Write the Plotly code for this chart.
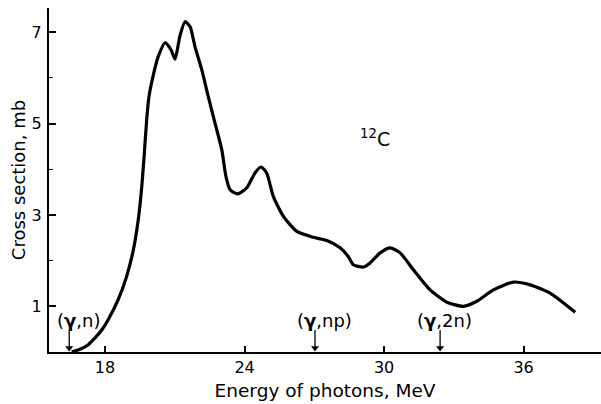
import plotly.graph_objects as go

# Photon energy (MeV) and cross section (mb)
energy = [16.57, 16.92, 17.28, 17.57, 17.86, 18.14, 18.57, 18.93, 19.22, 19.43,
          19.58, 19.69, 19.79, 19.89, 20.08, 20.29, 20.58, 20.84, 21.01, 21.23,
          21.44, 21.66, 21.87, 22.16, 22.44, 22.73, 23.02, 23.20, 23.38, 23.70,
          24.09, 24.45, 24.71, 24.95, 25.24, 25.67, 26.25, 26.96, 27.54, 28.11,
          28.46, 28.68, 29.11, 29.40, 29.83, 30.26, 30.69, 31.26, 31.98, 32.70,
          33.41, 33.99, 34.70, 35.56, 36.28, 37.14, 38.22]
sigma = [0.00, 0.06, 0.16, 0.31, 0.48, 0.71, 1.15, 1.66, 2.24, 2.90,
         3.62, 4.35, 5.08, 5.59, 6.07, 6.47, 6.77, 6.61, 6.41, 6.94,
         7.23, 7.12, 6.68, 6.18, 5.59, 5.01, 4.43, 3.84, 3.55, 3.46,
         3.59, 3.92, 4.05, 3.92, 3.40, 2.97, 2.64, 2.51, 2.44, 2.28,
         2.09, 1.91, 1.86, 1.95, 2.17, 2.28, 2.17, 1.80, 1.36, 1.09,
         1.00, 1.11, 1.36, 1.53, 1.47, 1.29, 0.87]

x_ticks = [18, 24, 30, 36]
y_ticks = [1, 3, 5, 7]
y_minor = [2, 4, 6]

# Reaction thresholds (arrow positions) and label positions
thr_labels = ["(<b>γ</b>,n)", "(<b>γ</b>,np)", "(<b>γ</b>,2n)"]
thr_energy = [16.46, 27.03, 32.41]
thr_label_x = [16.84, 27.44, 32.58]
thr_label_y = [0.68, 0.68, 0.68]
arrow_top = 0.48     # mb, tail of each threshold arrow
arrow_tip = 0.09     # mb, centre of the arrow-head marker

nucleus_label = "<sup>12</sup>C"
nucleus_pos = (29.62, 4.69)

FONT = "DejaVu Sans"

fig = go.Figure()
fig.add_trace(go.Scatter(
    x=energy, y=sigma, mode="lines",
    line=dict(color="black", width=3.2, shape="spline", smoothing=0.6),
    hoverinfo="skip", showlegend=False))

# threshold arrows: shafts + heads
shaft_x, shaft_y = [], []
for e in thr_energy:
    shaft_x += [e, e, None]
    shaft_y += [arrow_top, arrow_tip, None]
fig.add_trace(go.Scatter(
    x=shaft_x, y=shaft_y, mode="lines",
    line=dict(color="black", width=1.3),
    hoverinfo="skip", showlegend=False, cliponaxis=False))
fig.add_trace(go.Scatter(
    x=thr_energy, y=[arrow_tip] * len(thr_energy), mode="markers",
    marker=dict(symbol="triangle-down", size=7, color="black",
                line=dict(width=0)),
    hoverinfo="skip", showlegend=False, cliponaxis=False))

annotations = []
for lab, lx, ly in zip(thr_labels, thr_label_x, thr_label_y):
    annotations.append(dict(x=lx, y=ly, text=lab, showarrow=False,
                            font=dict(family=FONT, size=18, color="black")))
annotations.append(dict(x=nucleus_pos[0], y=nucleus_pos[1], text=nucleus_label,
                        showarrow=False,
                        font=dict(family=FONT, size=19, color="black")))

fig.update_layout(
    width=601, height=404,
    margin=dict(l=49, r=0, t=8, b=52),
    paper_bgcolor="white", plot_bgcolor="white",
    font=dict(family=FONT, size=16, color="black"),
    annotations=annotations,
    xaxis=dict(range=[15.59, 39.33], showgrid=False, zeroline=False,
               showline=True, linecolor="black", linewidth=2,
               ticks="inside", ticklen=6, tickwidth=1.5, tickcolor="black",
               tickvals=x_ticks, ticktext=[str(v) for v in x_ticks],
               tickfont=dict(size=16),
               title=dict(text="Energy of photons, MeV",
                          font=dict(size=18.5), standoff=8)),
    yaxis=dict(range=[0, 7.53], showgrid=False, zeroline=False,
               showline=True, linecolor="black", linewidth=2,
               ticks="inside", ticklen=7, tickwidth=1.5, tickcolor="black",
               tickvals=y_ticks, ticktext=[str(v) for v in y_ticks],
               tickfont=dict(size=16), ticklabelstandoff=2,
               minor=dict(tickvals=y_minor, ticks="inside", ticklen=4,
                          tickwidth=1.2, tickcolor="black"),
               title=dict(text="Cross section, mb",
                          font=dict(size=18), standoff=1)),
)

fig.write_html("out.html")
